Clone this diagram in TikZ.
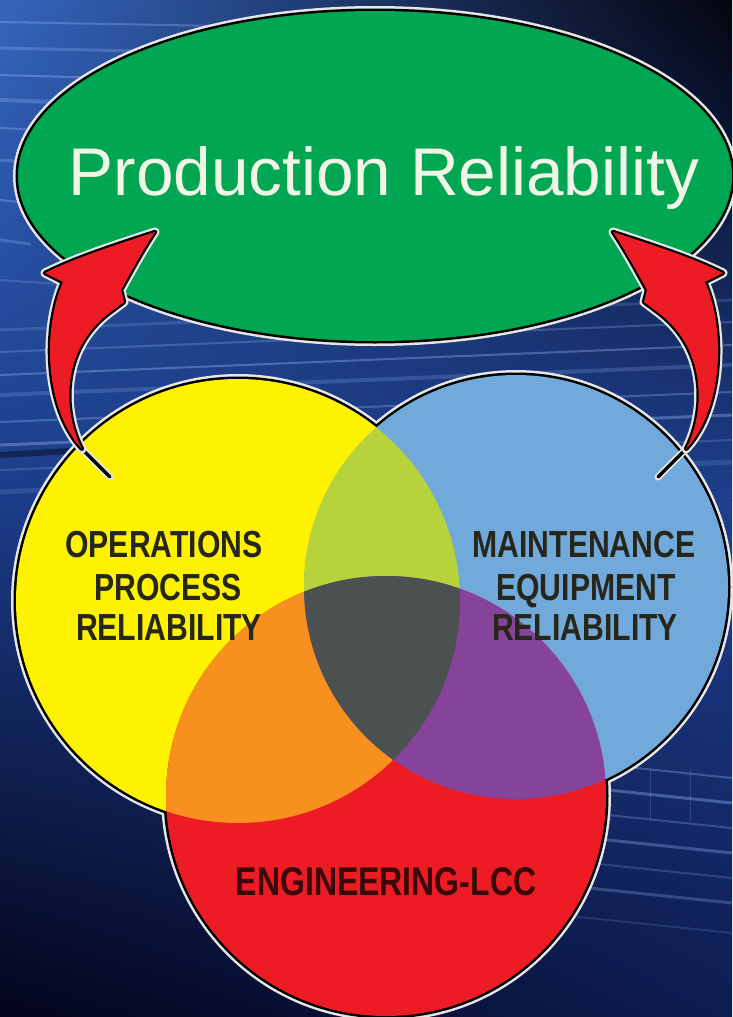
\documentclass[tikz,border=0pt]{standalone}
\usepackage{fontspec}
\setmainfont{Liberation Sans}
\usetikzlibrary{shadings}
\definecolor{bgA}{HTML}{3565BC}
\definecolor{bgB}{HTML}{04050F}
\definecolor{bgC}{HTML}{1B3C88}
\definecolor{bgD}{HTML}{1E3F8E}
\definecolor{bgE}{HTML}{03041A}
\definecolor{bgF}{HTML}{0D1C52}
\definecolor{prgreen}{HTML}{00A651}
\definecolor{pryellow}{HTML}{FFF200}
\definecolor{prblue}{HTML}{72A9DB}
\definecolor{prred}{HTML}{ED1C24}
\definecolor{lensyb}{HTML}{B7D33B}
\definecolor{lensyr}{HTML}{F7901E}
\definecolor{lensbr}{HTML}{85439A}
\definecolor{lensall}{HTML}{4B5151}
\definecolor{titletext}{HTML}{F1F5E6}
\definecolor{lbltext}{HTML}{26261A}
\definecolor{engtext}{HTML}{3A0808}
\definecolor{streakc}{HTML}{9FC3FF}
\definecolor{halogrey}{HTML}{E6E6E6}
\tikzset{
  halo/.style={draw=halogrey, line width=10pt},
  rim/.style={draw=black, line width=5pt},
  lbl/.style={font=\bfseries\fontsize{37.7}{40}\selectfont, text=lbltext, xscale=0.8, anchor=base, inner sep=0pt},
  streak/.style={draw=streakc, line cap=round},
  arrowbody/.style={preaction={draw=halogrey, line width=9pt, line join=round},
                    preaction={draw=black, line width=4.5pt, line join=round},
                    fill=prred},
}
\newcommand\PRArrow{%
  \draw[halogrey, line width=7pt, line cap=round] (82,449) -- (110,477);
  \draw[black, line width=3.5pt, line cap=round] (82,449) -- (110,477);
  \path[arrowbody] (155,232) .. controls (115,245) and (75,258) .. (45,273)
     -- (63,282)
     .. controls (42,330) and (45,410) .. (82,449)
     .. controls (62,410) and (62,350) .. (108,314)
     -- (124,302) -- (121,290)
     .. controls (132,270) and (143,250) .. (155,232) -- cycle;
}
\begin{document}
\begin{tikzpicture}[x=1pt,y=-1pt]
\useasboundingbox (0,0) rectangle (732,1017);
% background
\shade[upper left=bgA, upper right=bgB, lower left=bgC, lower right=bgD] (0,0) rectangle (732,500);
\shade[upper left=bgC, upper right=bgD, lower left=bgE, lower right=bgF] (0,500) rectangle (732,1017);
% streaks
\foreach \y/\l/\o/\w in {22/220/0.30/2, 48/180/0.25/3, 75/140/0.35/2, 100/110/0.25/4, 128/80/0.3/2, 160/60/0.25/3, 200/40/0.3/2, 240/30/0.25/3, 280/60/0.2/2}
  \draw[streak, opacity=\o, line width=\w pt] (0,\y) -- (\l,\y+4);
\foreach \y/\o/\w in {300/0.18/3, 322/0.25/2, 345/0.35/2, 365/0.2/4, 392/0.3/2, 415/0.35/3, 440/0.2/2, 462/0.15/5}
  \draw[streak, opacity=\o, line width=\w pt] (0,\y+30) -- (732,\y);
\draw[black, opacity=0.4, line width=6pt] (0,455) -- (260,440);
\foreach \y/\o/\w in {760/0.3/2, 785/0.35/3, 810/0.25/2, 835/0.3/3, 860/0.2/2, 885/0.25/3, 915/0.15/2}
  \draw[streak, opacity=\o, line width=\w pt] (560,\y) -- (732,\y+18);
\foreach \x in {650,690}
  \draw[streak, opacity=0.2, line width=1pt] (\x,770) -- (\x,820);
% green ellipse
\draw[halo] (375,176) ellipse [x radius=357, y radius=165];
\draw[rim] (375,176) ellipse [x radius=357, y radius=165];
\fill[prgreen] (375,176) ellipse [x radius=357, y radius=165];
\node[font=\fontsize{67.5}{70}\selectfont, text=titletext, anchor=base, inner sep=0pt] (title) at (384,195) {Production Reliability};
% circles outlines
\foreach \c/\r in {{(238,601)}/222, {(516,587)}/212, {(386,796)}/220}{
  \draw[halo] \c circle [radius=\r];
}
\foreach \c/\r in {{(238,601)}/222, {(516,587)}/212, {(386,796)}/220}{
  \draw[rim] \c circle [radius=\r];
}
% fills
\fill[pryellow] (238,601) circle [radius=222];
\fill[prblue] (516,587) circle [radius=212];
\fill[prred] (386,796) circle [radius=220];
\begin{scope}
  \clip (238,601) circle [radius=222];
  \fill[lensyb] (516,587) circle [radius=212];
  \fill[lensyr] (386,796) circle [radius=220];
\end{scope}
\begin{scope}
  \clip (516,587) circle [radius=212];
  \fill[lensbr] (386,796) circle [radius=220];
  \clip (238,601) circle [radius=222];
  \fill[lensall] (386,796) circle [radius=220];
\end{scope}
% labels
\node[lbl] (ops1) at (164,557) {OPERATIONS};
\node[lbl] (ops2) at (168,600) {PROCESS};
\node[lbl] (ops3) at (169,640) {RELIABILITY};
\node[lbl] (mnt1) at (584,557) {MAINTENANCE};
\node[lbl] (mnt2) at (586,600) {EQUIPMENT};
\node[lbl] (mnt3) at (585,640) {RELIABILITY};
\node[lbl, font=\bfseries\fontsize{40}{42}\selectfont, text=engtext] (eng) at (386,895) {ENGINEERING-LCC};
% arrows
\PRArrow
\begin{scope}[xshift=768pt, xscale=-1]
  \PRArrow
\end{scope}
\end{tikzpicture}
\end{document}
